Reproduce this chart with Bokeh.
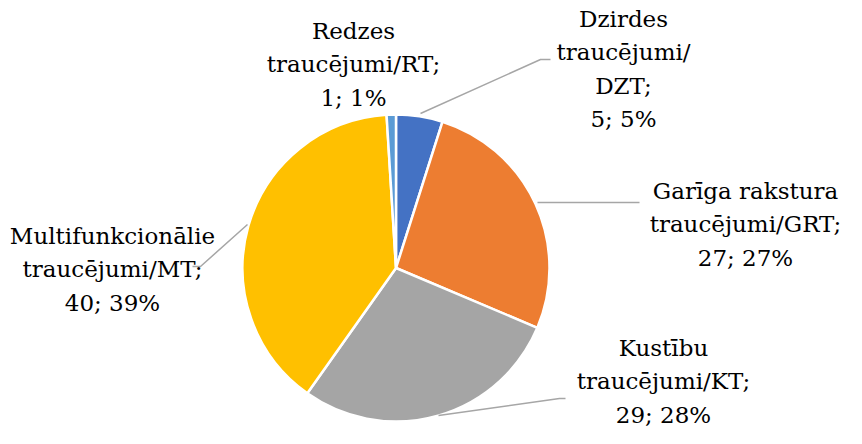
import math
from bokeh.plotting import figure
from bokeh.models import Range1d, ColumnDataSource
from bokeh.core.properties import value
from bokeh.embed import file_html
from bokeh.resources import INLINE

# ---- data ----
categories = ["DZT", "GRT", "KT", "MT", "RT"]
names = ["Dzirdes\ntraucējumi/\nDZT", "Garīga rakstura\ntraucējumi/GRT",
         "Kustību\ntraucējumi/KT", "Multifunkcionālie\ntraucējumi/MT",
         "Redzes\ntraucējumi/RT"]
counts = [5, 27, 29, 40, 1]
percents = [5, 27, 28, 39, 1]
colors = ["#4472C4", "#ED7D31", "#A5A5A5", "#FFC000", "#5B9BD5"]

# ---- layout (page pixel coordinates) ----
W, H = 846, 428
def px(x):
    return x - 8
def py(y):
    return (H + 8) - y

cx, cy, R = px(403.5), py(275.5), 153.5
label_pos = [(631, 26), (753, 198), (671, 355), (120, 243), (361, 38)]
line_gap = 33.5
leaders = [
    [(428, 121), (548, 67), (558, 67)],
    [(545, 210), (647, 210)],
    [(446, 423), (567, 406), (573, 406)],
    [(255, 232), (208, 274), (200, 274)],
    None,
]

total = sum(counts)
starts, ends = [], []
cum = 0
for c in counts:
    a0 = math.pi / 2 - 2 * math.pi * cum / total
    cum += c
    a1 = math.pi / 2 - 2 * math.pi * cum / total
    starts.append(a1)
    ends.append(a0)

src = ColumnDataSource(dict(cat=categories, start=starts, end=ends, color=colors))

p = figure(width=W, height=H, x_range=Range1d(0, W), y_range=Range1d(0, H),
           output_backend="svg", toolbar_location=None, min_border=0)
p.axis.visible = False
p.grid.visible = False
p.outline_line_color = None
p.background_fill_color = "white"
p.border_fill_color = "white"

p.wedge(x=cx, y=cy, radius=R, start_angle="start", end_angle="end",
        fill_color="color", line_color="white", line_width=2.5, source=src)

for ld in leaders:
    if ld is None:
        continue
    p.line([px(a) for a, b in ld], [py(b) for a, b in ld],
           line_color="#A6A6A6", line_width=1.5)

tx, ty, tt = [], [], []
for n, c, pc, (lx, ly) in zip(names, counts, percents, label_pos):
    lines = f"{n};\n{c}; {pc}%".split("\n")
    for i, ln in enumerate(lines):
        tx.append(px(lx))
        ty.append(py(ly + i * line_gap))
        tt.append(ln)
tsrc = ColumnDataSource(dict(x=tx, y=ty, t=tt))
p.text(x="x", y="y", text="t", source=tsrc, text_align="center",
       text_baseline="middle", text_font=value("DejaVu Serif"),
       text_font_size="23px", text_color="#000000")

open("out.html", "w").write(file_html(p, INLINE))
